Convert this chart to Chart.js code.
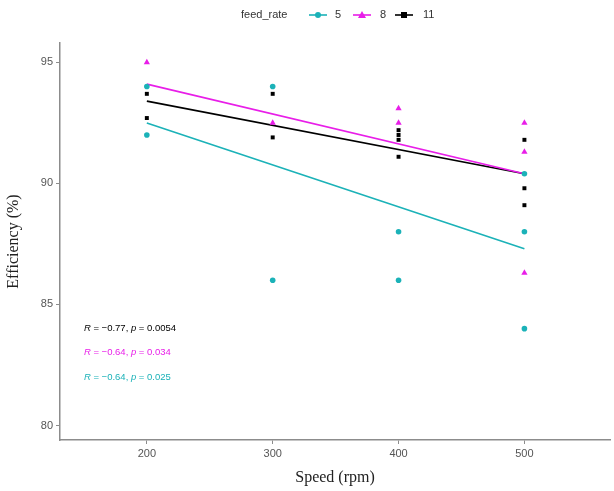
<!DOCTYPE html>
<html>
<head>
<meta charset="utf-8">
<script src="https://cdn.jsdelivr.net/npm/chart.js@4"></script>
<style>
  html, body { margin: 0; padding: 0; background: #fff; }
  #wrap { position: relative; width: 614px; height: 491px; }
</style>
</head>
<body>
<div id="wrap"><canvas id="chart" width="614" height="491"></canvas></div>
<script>
// feed_rate groups
const groups = ['5', '8', '11'];
const colors = ['#1bb2b8', '#e81ee8', '#000000'];
const shapes = ['circle', 'triangle', 'rect'];

// observed points (speed, efficiency)
const speed5 = [200, 200, 300, 300, 400, 400, 500, 500, 500];
const eff5 = [94.0, 92.0, 94.0, 86.0, 88.0, 86.0, 90.4, 88.0, 84.0];
const speed8 = [200, 300, 400, 400, 500, 500, 500];
const eff8 = [95.0, 92.5, 93.1, 92.5, 92.5, 91.3, 86.3];
const speed11 = [200, 200, 300, 300, 400, 400, 400, 400, 500, 500, 500];
const eff11 = [93.7, 92.7, 93.7, 91.9, 92.2, 92.0, 91.8, 91.1, 91.8, 89.8, 89.1];

// fitted lines: value at speed 200 and 500
const fitX = [200, 500];
const fit5 = [92.5, 87.3];
const fit8 = [94.1, 90.4];
const fit11 = [93.4, 90.4];

// correlation labels (drawn in order top to bottom)
const statR = ['-0.77', '-0.64', '-0.64'];
const statP = ['0.0054', '0.034', '0.025'];
const statColors = ['#000000', '#e81ee8', '#1bb2b8'];
const statY = [84, 83, 82];
const statX = 150;

const xTicks = [200, 300, 400, 500];
const yTicks = [80, 85, 90, 95];

const pts = (xs, ys) => xs.map((x, i) => ({ x, y: ys[i] }));
const fitPts = (ys) => fitX.map((x, i) => ({ x, y: ys[i] }));

const seriesPts = [pts(speed5, eff5), pts(speed8, eff8), pts(speed11, eff11)];
const seriesFit = [fitPts(fit5), fitPts(fit8), fitPts(fit11)];

const datasets = [];
groups.forEach((g, i) => {
  datasets.push({
    type: 'line', label: 'fit ' + g, data: seriesFit[i],
    borderColor: colors[i], borderWidth: 1.6, pointRadius: 0, fill: false, order: 2
  });
});
groups.forEach((g, i) => {
  datasets.push({
    type: 'scatter', label: g, data: seriesPts[i],
    pointStyle: shapes[i], pointRadius: shapes[i] === 'triangle' ? 3.6 : 2.8,
    backgroundColor: colors[i], borderColor: colors[i], borderWidth: 0, order: 1
  });
});

const annotate = {
  id: 'annotate',
  afterDraw(chart) {
    const ctx = chart.ctx;
    const xs = chart.scales.x, ys = chart.scales.y;
    ctx.save();
    ctx.textBaseline = 'middle';
    statR.forEach((r, i) => {
      let x = xs.getPixelForValue(statX);
      const y = ys.getPixelForValue(statY[i]);
      const parts = [
        ['R', true], [' = \u2212' + r.slice(1) + ', ', false], ['p', true], [' = ' + statP[i], false]
      ];
      ctx.fillStyle = statColors[i];
      parts.forEach(([t, it]) => {
        ctx.font = (it ? 'italic ' : '') + '9.5px "Liberation Sans", Arial, sans-serif';
        ctx.fillText(t, x, y);
        x += ctx.measureText(t).width;
      });
    });

    // legend
    ctx.font = '11px "Liberation Sans", Arial, sans-serif';
    ctx.fillStyle = '#333';
    ctx.textAlign = 'left';
    ctx.fillText('feed_rate', 241, 15);
    const lx = [318, 362, 404];
    const tx = [335, 380, 423];
    groups.forEach((g, i) => {
      ctx.strokeStyle = colors[i];
      ctx.lineWidth = 1.6;
      ctx.beginPath();
      ctx.moveTo(lx[i] - 9, 15);
      ctx.lineTo(lx[i] + 9, 15);
      ctx.stroke();
      ctx.fillStyle = colors[i];
      ctx.beginPath();
      if (shapes[i] === 'circle') {
        ctx.arc(lx[i], 15, 3, 0, Math.PI * 2);
      } else if (shapes[i] === 'triangle') {
        ctx.moveTo(lx[i], 11);
        ctx.lineTo(lx[i] + 4, 18);
        ctx.lineTo(lx[i] - 4, 18);
        ctx.closePath();
      } else {
        ctx.rect(lx[i] - 3, 12, 6, 6);
      }
      ctx.fill();
      ctx.fillStyle = '#333';
      ctx.fillText(g, tx[i], 15);
    });
    ctx.restore();
  }
};

new Chart(document.getElementById('chart'), {
  type: 'scatter',
  data: { datasets },
  options: {
    responsive: false,
    animation: false,
    layout: { padding: { top: 43, right: 0, left: 0, bottom: 0 } },
    plugins: { legend: { display: false }, tooltip: { enabled: false } },
    scales: {
      x: {
        type: 'linear', min: 131, max: 568,
        afterBuildTicks: (s) => { s.ticks = xTicks.map(v => ({ value: v })); },
        afterFit: (s) => { s.height = 51; },
        grid: { drawOnChartArea: false, drawTicks: true, tickLength: 4, color: '#8c8c8c' },
        border: { display: true, color: '#8c8c8c', width: 1.5 },
        ticks: { color: '#555', font: { size: 11, family: 'Liberation Sans' }, padding: 3, maxRotation: 0 },
        title: { display: true, text: 'Speed (rpm)', color: '#222',
                 font: { size: 16, family: 'Liberation Serif' }, padding: { top: 2 } }
      },
      y: {
        type: 'linear', min: 79.4, max: 95.8,
        afterBuildTicks: (s) => { s.ticks = yTicks.map(v => ({ value: v })); },
        afterFit: (s) => { s.width = 60; },
        grid: { drawOnChartArea: false, drawTicks: true, tickLength: 4, color: '#8c8c8c' },
        border: { display: true, color: '#8c8c8c', width: 1.5 },
        ticks: { color: '#555', font: { size: 11, family: 'Liberation Sans' }, padding: 3 },
        title: { display: true, text: 'Efficiency (%)', color: '#222',
                 font: { size: 16, family: 'Liberation Serif' }, padding: { bottom: 6 } }
      }
    }
  },
  plugins: [annotate]
});
</script>
</body>
</html>
